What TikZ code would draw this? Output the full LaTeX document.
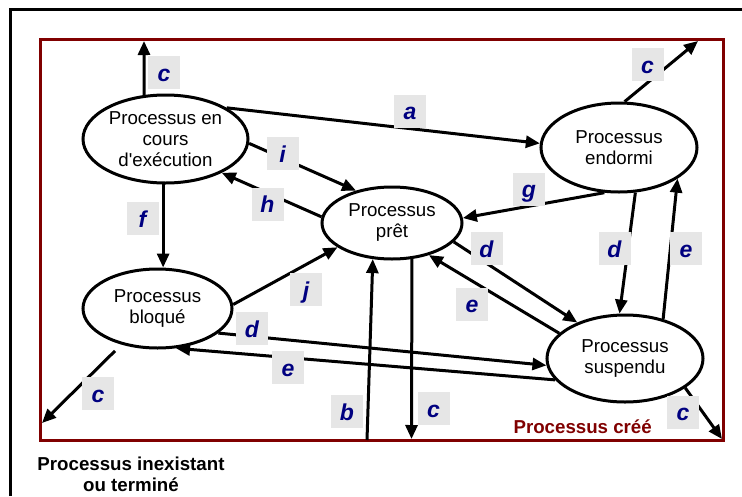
\documentclass[tikz,border=0pt]{standalone}
\usepackage{fontspec}
\setmainfont{Liberation Sans}[Ligatures=TeXOff]
\usetikzlibrary{arrows.meta,shapes.geometric}
\definecolor{frred}{HTML}{800000}
\definecolor{labblue}{HTML}{000080}
\definecolor{labgray}{HTML}{E6E6E6}
\tikzset{
  ell/.style={ellipse,draw,line width=3pt,inner sep=0pt,align=center,
    font=\fontsize{18.7}{21}\selectfont},
  arr/.style={line width=3pt,-{Triangle[length=14pt,width=12pt]}},
  lab/.style={fill=labgray,text=labblue,font=\fontsize{23}{23}\selectfont\bfseries\itshape,
    minimum width=32pt,minimum height=33pt,inner sep=0pt,text height=17pt,text depth=0pt},
  bigtxt/.style={font=\fontsize{18.7}{21}\selectfont\bfseries},
}
\begin{document}
\begin{tikzpicture}[x=1pt,y=-1pt]
\useasboundingbox (0,0) rectangle (742,496);
% frames
\draw[line width=3pt] (10,496) -- (10,9) -- (742,9);
\draw[frred,line width=3pt] (40,39) rectangle (723,440);
% free ends
\coordinate (cTL) at (144,41);
\coordinate (cTR) at (698,41);
\coordinate (cBL) at (42,423);
\coordinate (cB) at (411.5,439);
\coordinate (bS) at (367,440);
\coordinate (cBR) at (722,439);
% states
\node[ell,minimum width=165pt,minimum height=88pt] (ex) at (165.5,139) {Processus en\\cours\\d'exécution};
\node[ell,minimum width=156pt,minimum height=89pt] (en) at (619,147.5) {Processus\\endormi};
\node[ell,minimum width=140pt,minimum height=72pt] (pr) at (392,223) {Processus\\prêt};
\node[ell,minimum width=149pt,minimum height=79pt] (bl) at (157.5,308.5) {Processus\\bloqué};
\node[ell,minimum width=156pt,minimum height=87pt] (su) at (625,358.5) {Processus\\suspendu};
% transitions
\draw[arr] (ex.116) -- (cTL);
\draw[arr] (ex.27) -- (en.177);
\draw[arr] (en.83) -- (cTR);
\draw[arr] (ex.-3) -- (pr.138);
\draw[arr] (pr.175) -- (ex.-31);
\draw[arr] (ex.-93) -- (ex.-93 |- bl.north);
\draw[arr] (en.252) -- (pr.4);
\draw[arr] (en.-70) -- (su.97);
\draw[arr] (su.46) -- (en.-28);
\draw[arr] (pr.-17) -- (su.143);
\draw[arr] (su.159) -- (pr.-41);
\draw[arr] (bl.3) -- (pr.204);
\draw[arr] (bl.-22) -- (su.185);
\draw[arr] (su.197) -- (bl.-65);
\draw[arr,shorten <=9pt] (bl.225) -- (cBL);
\draw[arr] (bS) -- (pr.242);
\draw[arr] (pr.-61) -- (cB);
\draw[arr] (su.-26) -- (cBR);
% labels
\node[lab] (lcTL) at (164,72.5) {c};
\node[lab] (li) at (282.5,153.5) {i};
\node[lab] (lh) at (267.5,204) {h};
\node[lab] (lf) at (142.5,218.5) {f};
\node[lab] (la) at (410,111) {a};
\node[lab] (lcTR) at (647.5,64.5) {c};
\node[lab] (lg) at (529,189) {g};
\node[lab] (ldPS) at (486.5,248.5) {d};
\node[lab] (ldES) at (614.5,248.5) {d};
\node[lab] (leSE) at (686,248.5) {e};
\node[lab] (leSP) at (472,304) {e};
\node[lab] (lj) at (306,289.5) {j};
\node[lab] (ldBS) at (252,328.5) {d};
\node[lab] (leSB) at (288,367.5) {e};
\node[lab] (lcBL) at (98,393.5) {c};
\node[lab] (lb) at (347,411.5) {b};
\node[lab] (lcB) at (433.5,408.5) {c};
\node[lab] (lcBR) at (683,412) {c};
% texts
\node[bigtxt,text=frred,anchor=base east,inner sep=0pt] (cree) at (652,433) {Processus créé};
\node[bigtxt,align=center,anchor=north,inner sep=0pt] (inex) at (131,456.5) {Processus inexistant\\ou terminé};
\end{tikzpicture}
\end{document}
